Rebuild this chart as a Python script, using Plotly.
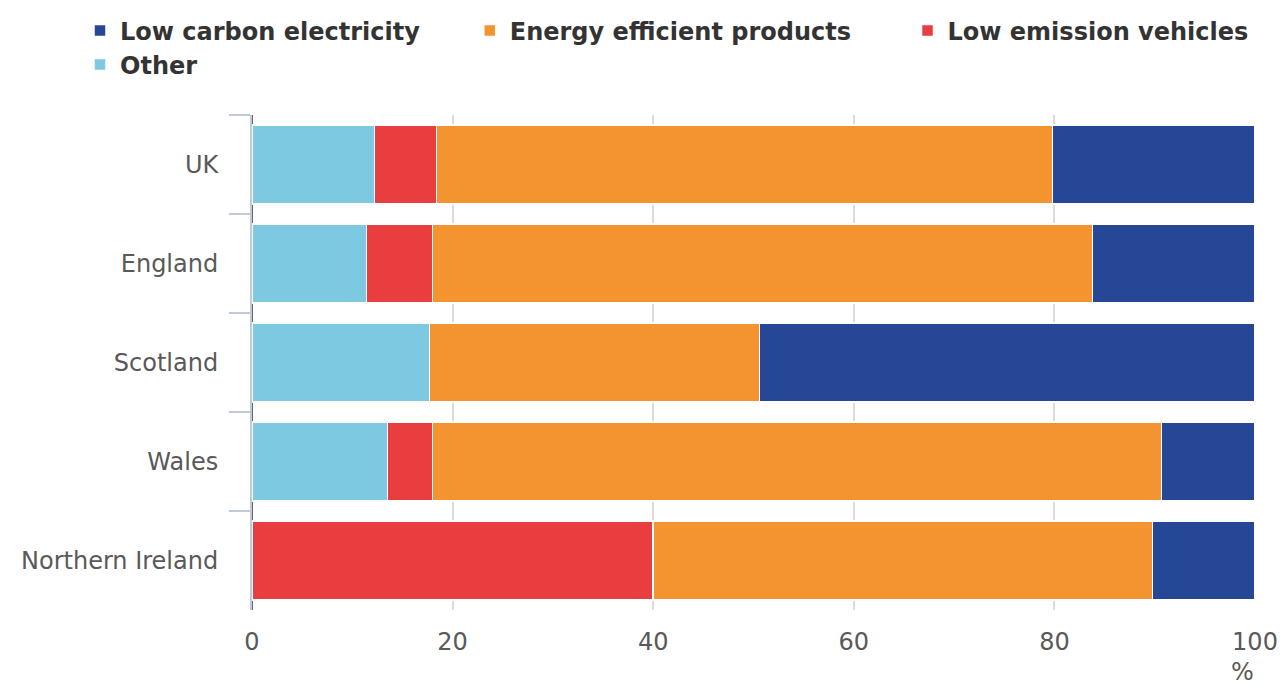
import plotly.graph_objects as go

regions = ["UK", "England", "Scotland", "Wales", "Northern Ireland"]
other = [12.2, 11.4, 17.7, 13.5, 0]
low_emission_vehicles = [6.2, 6.6, 0, 4.5, 40.0]
energy_efficient_products = [61.4, 65.8, 32.9, 72.7, 49.8]
low_carbon_electricity = [20.2, 16.2, 49.4, 9.3, 10.2]
x_ticks = [0, 20, 40, 60, 80, 100]

series = [
    ("Other", other, "#7DC9E1", "legend"),
    ("Low emission vehicles", low_emission_vehicles, "#E83E40", "legend3"),
    ("Energy efficient products", energy_efficient_products, "#F39431", "legend2"),
    ("Low carbon electricity", low_carbon_electricity, "#264796", "legend"),
]

fig = go.Figure()
for name, vals, color, leg in series:
    fig.add_trace(go.Bar(
        y=regions, x=vals, name=name, orientation="h", legend=leg,
        marker=dict(color=color, line=dict(color="white", width=1.5)),
    ))

legend_font = dict(family="DejaVu Sans", size=24, color="#333333", weight="bold")
legend_common = dict(
    orientation="h", xref="container", yref="container", y=0.988,
    xanchor="left", yanchor="top", font=legend_font,
    traceorder="reversed", tracegroupgap=0, bgcolor="rgba(0,0,0,0)",
)

fig.update_layout(
    width=1280, height=691,
    barmode="stack", bargap=0.2,
    plot_bgcolor="white", paper_bgcolor="white",
    margin=dict(l=252, r=25, t=115, b=81, autoexpand=False),
    font=dict(family="DejaVu Sans", color="#595959", size=24),
    legend=dict(x=0.0625, entrywidth=0.95, entrywidthmode="fraction", **legend_common),
    legend2=dict(x=0.367, **legend_common),
    legend3=dict(x=0.709, **legend_common),
    xaxis=dict(
        range=[0, 100], tickvals=x_ticks, showgrid=True, automargin=False,
        gridcolor="#dcdcdc", gridwidth=2, zeroline=True,
        zerolinecolor="#666666", zerolinewidth=2,
        showline=False, ticks="", ticklabelstandoff=15,
        tickfont=dict(size=24, color="#595959"),
    ),
    yaxis=dict(
        autorange="reversed", showline=True, linecolor="#c0cad8", linewidth=2,
        ticks="outside", tickson="boundaries", ticklen=21, tickwidth=2,
        tickcolor="#c0cad8", ticklabelstandoff=27, automargin=False,
        tickfont=dict(size=24, color="#595959"), showgrid=False,
    ),
    annotations=[dict(
        text="%", xref="paper", yref="paper", x=0.988, y=-0.125,
        xanchor="center", yanchor="middle", showarrow=False,
        font=dict(size=24, color="#595959"),
    )],
)

fig.write_html("out.html")
